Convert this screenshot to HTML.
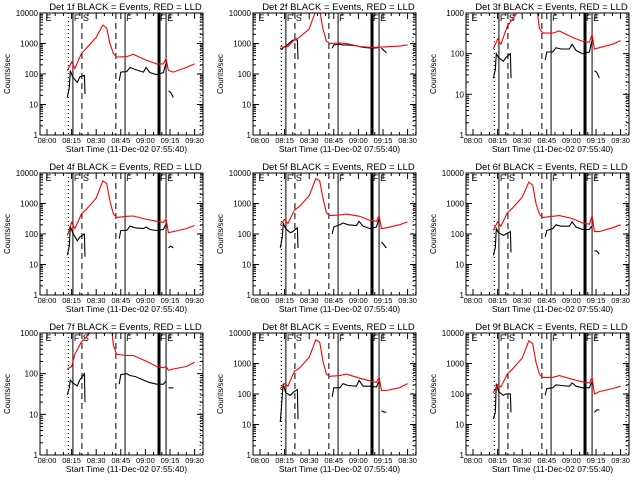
<!DOCTYPE html>
<html><head><meta charset="utf-8"><style>
html,body{margin:0;padding:0;background:#fff;}
svg{display:block;}
text{font-family:"Liberation Sans",sans-serif;fill:#000;}
</style></head><body>
<svg id="chart" width="640" height="480" viewBox="0 0 640 480" xmlns="http://www.w3.org/2000/svg"></svg>
<script>
// minutes after 08:00
const redTimes = [12.4,15,17,21,24,30,34,36.4,38.4,40.5,42.5,48.6,52.6,60.8,66.9,71,72.6,74,77,85,90];
const blackTimes = [12.4,13.6,14.2,15.6,18.5,20,22.8,23.2,null,44,45,48.6,50.6,53.7,58.8,60.4,62.8,66.9,71,72.4,null,74,75.4,77];
const detNames = ["1f","2f","3f","4f","5f","6f","7f","8f","9f"];
const yMaxDecade = [4,4,3,4,4,4,3,4,4];
const xTickLabels1 = ["08:00","08:15","08:30","08:45","09:00","09:15","09:30"];
const xTickLabels2 = ["08:00","08:15","08:30","08:45","09:00","09:15","08:30"];
const red1 = [130,245,150,470,700,1600,4000,3200,980,470,360,370,440,280,215,215,320,130,115,165,215];
const red2 = [800,750,800,1300,1600,3000,12000,12000,3000,1200,1000,1050,1000,800,750,750,760,760,780,820,900];
const red3 = [130,230,170,480,700,1500,5000,5000,2000,420,320,320,360,250,200,190,300,130,140,170,210];
const red4 = [90,240,150,450,650,1500,5500,4500,1200,450,350,380,390,300,260,240,310,110,120,150,190];
const red5 = [200,300,220,600,800,1800,6500,5500,1500,500,400,420,450,380,280,260,400,150,160,200,250];
const red6 = [130,250,180,500,700,1600,5000,4000,1000,450,350,380,400,320,230,210,400,120,120,160,200];
const red7 = [130,150,300,600,800,1500,3000,3000,3000,500,300,280,280,200,150,140,150,120,130,150,190];
const red8 = [150,220,180,550,700,1600,6000,5000,1200,450,380,400,450,330,270,240,350,130,130,160,220];
const red9 = [110,200,170,450,650,1500,5500,4500,1100,450,350,350,400,300,250,230,350,100,120,150,180];
const black1 = [17,36,130,80,53,80,90,22,null,60,115,120,165,140,115,165,110,95,110,210,null,28,25,17];
const black2 = [700,650,750,800,1100,1300,1300,300,null,700,900,950,900,900,850,800,750,720,720,750,null,700,600,500];
const black3 = [25,40,100,80,65,80,100,25,null,70,110,110,140,130,130,170,120,100,110,200,null,38,35,25];
const black4 = [20,40,180,110,60,80,100,18,null,70,130,130,180,160,150,170,140,130,140,200,null,35,40,35];
const black5 = [35,80,220,150,110,120,160,35,null,100,170,200,230,200,190,260,180,150,170,300,null,55,45,35];
const black6 = [20,35,150,110,90,100,120,25,null,80,130,150,200,180,180,250,170,140,140,180,null,28,28,22];
const black7 = [30,45,70,60,50,70,100,20,null,55,95,100,90,85,70,65,60,55,55,65,null,45,45,45];
const black8 = [12,90,220,110,90,110,140,15,null,80,160,160,220,190,180,280,180,180,170,250,null,28,26,25];
const black9 = [15,25,220,120,90,100,100,25,null,90,150,160,200,190,180,230,180,160,160,250,null,25,30,30];
const redSeries = [red1,red2,red3,red4,red5,red6,red7,red8,red9];
const blackSeries = [black1,black2,black3,black4,black5,black6,black7,black8,black9];
const markerTimes = [13,15.8,21.3,42,47.6,68.3,72.6,93.4];
const markerStyles = ["dot","solid","dash","dash","solid","thick","solid","dot"];

const NS="http://www.w3.org/2000/svg";
const svg=document.getElementById('chart');
function mk(tag,attrs,parent){const e=document.createElementNS(NS,tag);for(const k in attrs)e.setAttribute(k,attrs[k]);(parent||svg).appendChild(e);return e;}

for(let p=0;p<9;p++){
  const col=p%3,row=Math.floor(p/3);
  const L=40+col*213,R=L+163,T=13+row*160,B=T+122;
  const top=yMaxDecade[p];
  const g=mk('g',{});
  
  
  const xs=m=>L+7+m*1.64;
  const ys=v=>B-(Math.log10(v))*(122/top);
  const cid='clip'+p;
  const cp=mk('clipPath',{id:cid},g);mk('rect',{x:L,y:T,width:R-L,height:B-T},cp);
  markerTimes.forEach((m,i)=>{
    const st=markerStyles[i];const x=xs(m);
    const ln=mk('line',{x1:x,x2:x,y1:T,y2:B,stroke:'#000','stroke-width':st==='thick'?3:1},g);
    if(st==='dot')ln.setAttribute('stroke-dasharray','1,3');
    if(st==='dash')ln.setAttribute('stroke-dasharray','6,4');
    
    
  });
  const mlab=["E","F","S","F","F","E"];const mpos=[-1.5,15.8,21.3,47.6,68.3,72.6];
  mlab.forEach((s,i)=>{const t=mk('text',{x:xs(mpos[i])+1,y:T+8,'font-size':9},g);t.textContent=s;
    });
  function path(times,vals,color,name){
    let d='',pen=false;
    for(let i=0;i<times.length;i++){
      if(times[i]===null||vals[i]===null){pen=false;continue;}
      d+=(pen?'L':'M')+xs(times[i]).toFixed(1)+','+ys(vals[i]).toFixed(1);pen=true;
    }
    const e=mk('path',{d:d,fill:'none',stroke:color,'stroke-width':1.1,'clip-path':'url(#'+cid+')'},g);
    
    
  }
  path(blackTimes,blackSeries[p],'#000','events-line');
  path(redTimes,redSeries[p],'#ff0000','lld-line');
  const fr=mk('rect',{x:L,y:T,width:R-L,height:B-T,fill:'none',stroke:'#000','stroke-width':1},g);
  
  for(let d=0;d<=top;d++){
    const y=ys(Math.pow(10,d));
    mk('line',{x1:L,x2:L+6,y1:y,y2:y,stroke:'#000'},g);
    mk('line',{x1:R-6,x2:R,y1:y,y2:y,stroke:'#000'},g);
    const t=mk('text',{x:L-2,y:y+3,'font-size':8,'text-anchor':'end'},g);
    t.textContent=String(Math.pow(10,d));
    
    if(d<top)for(let k=2;k<10;k++){const yy=ys(k*Math.pow(10,d));
      mk('line',{x1:L,x2:L+3,y1:yy,y2:yy,stroke:'#000'},g);mk('line',{x1:R-3,x2:R,y1:yy,y2:yy,stroke:'#000'},g);}
  }
  const labs=(p===1||p===7)?xTickLabels2:xTickLabels1;
  labs.forEach((s,i)=>{const x=xs(i*15);
    mk('line',{x1:x,x2:x,y1:B,y2:B-6,stroke:'#000'},g);mk('line',{x1:x,x2:x,y1:T,y2:T+6,stroke:'#000'},g);
    const t=mk('text',{x:x,y:B+8,'font-size':7.5,'text-anchor':'middle'},g);t.textContent=s;
    });
  for(let m=-5;m<=95;m+=5){if(m%15===0)continue;const x=xs(m);if(x<L||x>R)continue;
    mk('line',{x1:x,x2:x,y1:B,y2:B-3,stroke:'#000'},g);mk('line',{x1:x,x2:x,y1:T,y2:T+3,stroke:'#000'},g);}
  const ti=mk('text',{x:(L+R)/2+4,y:T-3,'font-size':9.5,'text-anchor':'middle'},g);
  ti.textContent='Det '+detNames[p]+' BLACK = Events, RED = LLD';
  
  const xt=mk('text',{x:(L+R)/2+5,y:B+17,'font-size':8.5,'text-anchor':'middle'},g);
  xt.textContent='Start Time (11-Dec-02 07:55:40)';
  
  const yt=mk('text',{x:0,y:0,'font-size':8,'text-anchor':'middle',transform:'translate('+(L-30)+','+((T+B)/2)+') rotate(-90)'},g);
  yt.textContent='Counts/sec';
  
}
</script>
</body></html>
